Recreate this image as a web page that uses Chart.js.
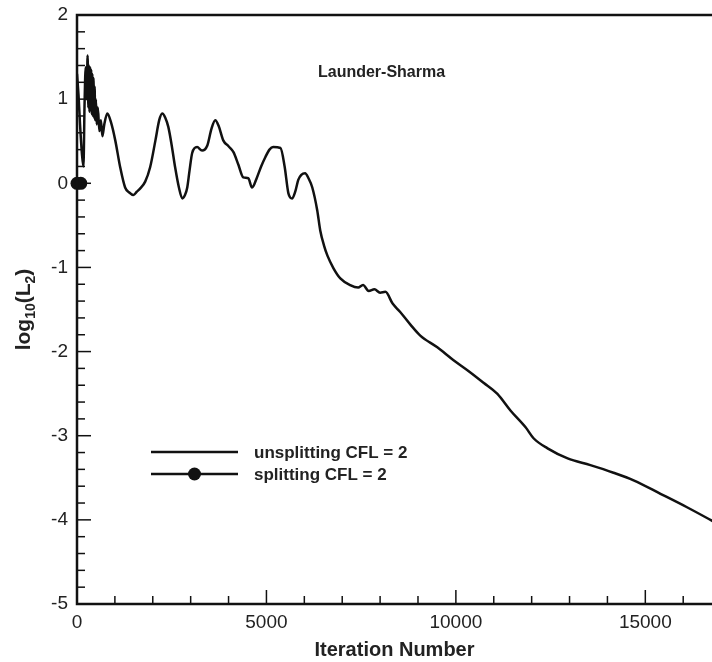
<!DOCTYPE html>
<html>
<head>
<meta charset="utf-8">
<script src="https://cdn.jsdelivr.net/npm/chart.js@4/dist/chart.umd.min.js"></script>
<style>
    html, body { margin: 0; padding: 0; background: #fff; }
    #wrap { width: 712px; height: 662px; }
</style>
</head>
<body>
<div id="wrap"><canvas id="residualChart" width="712" height="662"></canvas></div>
<script>
// residual history
const unsplitIter = [0, 40, 80, 130, 170, 200, 230, 255, 280, 300, 315, 330, 345, 360, 375, 390, 405, 420, 435, 450, 465, 480, 500, 520,
    550, 590, 630, 670, 720, 800, 900, 1010, 1140, 1270, 1380, 1490, 1580, 1670, 1800, 1930, 2070, 2170, 2250, 2330,
    2410, 2500, 2590, 2690, 2780, 2850, 2910, 2970, 3040, 3170, 3300, 3440, 3550, 3650, 3740, 3860, 4000, 4130, 4260,
    4390, 4520, 4620, 4750, 4860, 4970, 5080, 5180, 5370, 5480, 5580, 5680, 5760, 5840, 5920, 6020, 6110, 6210, 6340,
    6420, 6520, 6610, 6770, 6950, 7210, 7420, 7550, 7700, 7850, 8000, 8140, 8330, 8530, 8800, 9060, 9510, 9930, 10330,
    10730, 11090, 11440, 11840, 12050, 12420, 12950, 13550, 14160, 14690, 15400, 16100, 16800];
const unsplitL2 = [1.30, 1.05, 0.70, 0.35, 0.20, 0.95, 1.38, 1.00, 1.52, 0.90, 1.40, 0.85, 1.38, 0.92, 1.35, 0.82, 1.30, 0.80, 1.25, 0.78, 1.15, 0.75, 1.00, 0.70,
    0.90, 0.62, 0.75, 0.56, 0.70, 0.83, 0.72, 0.51, 0.19, -0.05, -0.11, -0.14, -0.10, -0.06, 0.02, 0.19, 0.51, 0.75, 0.83, 0.78,
    0.67, 0.45, 0.19, -0.05, -0.18, -0.14, -0.05, 0.15, 0.36, 0.43, 0.39, 0.45, 0.65, 0.75, 0.68, 0.51, 0.44, 0.37, 0.22,
    0.07, 0.06, -0.05, 0.07, 0.20, 0.31, 0.40, 0.43, 0.42, 0.20, -0.12, -0.18, -0.10, 0.04, 0.10, 0.12, 0.06, -0.05, -0.32,
    -0.56, -0.74, -0.86, -1.01, -1.13, -1.21, -1.24, -1.21, -1.28, -1.26, -1.30, -1.29, -1.43, -1.53, -1.68, -1.81, -1.95, -2.10, -2.23,
    -2.37, -2.50, -2.70, -2.90, -3.03, -3.15, -3.27, -3.35, -3.44, -3.53, -3.69, -3.85, -4.02];

const splitIter = [0, 100];
const splitL2 = [0, 0];

const xTickValues = [0, 5000, 10000, 15000];
const yTickValues = [-5, -4, -3, -2, -1, 0, 1, 2];
const seriesLabels = ['unsplitting CFL = 2', 'splitting CFL = 2'];
const noteText = 'Launder-Sharma';

const ink = '#111';
const textInk = '#222';

// axes frame, inward ticks, note, legend and y title
const framePlugin = {
    id: 'frame',
    afterDraw(chart) {
        const ctx = chart.ctx;
        const area = chart.chartArea;
        const xs = chart.scales.x;
        const ys = chart.scales.y;
        ctx.save();
        ctx.strokeStyle = ink;

        // ticks
        ctx.lineWidth = 1.5;
        for (let v = 0; v <= xs.max; v += 1000) {
            let px = xs.getPixelForValue(v);
            let len = v % 5000 === 0 ? 14 : 8;
            ctx.beginPath();
            ctx.moveTo(px, area.bottom);
            ctx.lineTo(px, area.bottom - len);
            ctx.stroke();
        }
        for (let i = 0; i <= 35; i++) {
            let v = -5 + i * 0.2;
            let py = ys.getPixelForValue(v);
            let len = i % 5 === 0 ? 14 : 8;
            ctx.beginPath();
            ctx.moveTo(area.left, py);
            ctx.lineTo(area.left + len, py);
            ctx.stroke();
        }

        // frame
        ctx.lineWidth = 2.5;
        ctx.beginPath();
        ctx.moveTo(area.right, area.top);
        ctx.lineTo(area.left, area.top);
        ctx.lineTo(area.left, area.bottom);
        ctx.lineTo(area.right, area.bottom);
        ctx.stroke();

        // note
        ctx.fillStyle = textInk;
        ctx.font = 'bold 16px "Liberation Sans", Arial, sans-serif';
        ctx.textAlign = 'left';
        ctx.textBaseline = 'middle';
        ctx.fillText(noteText, xs.getPixelForValue(6360), ys.getPixelForValue(1.32));

        // legend
        const lx1 = area.left + 74, lx2 = area.left + 161, ltx = area.left + 177;
        const rows = [area.top + 437, area.top + 459];
        chart.data.datasets.forEach(function (ds, i) {
            let y = rows[i];
            ctx.strokeStyle = ds.borderColor;
            ctx.lineWidth = ds.borderWidth;
            ctx.beginPath();
            ctx.moveTo(lx1, y);
            ctx.lineTo(lx2, y);
            ctx.stroke();
            if (ds.pointRadius > 0) {
                ctx.fillStyle = ds.pointBackgroundColor;
                ctx.beginPath();
                ctx.arc((lx1 + lx2) / 2, y, ds.pointRadius, 0, Math.PI * 2);
                ctx.fill();
            }
            ctx.fillStyle = textInk;
            ctx.font = 'bold 17px "Liberation Sans", Arial, sans-serif';
            ctx.fillText(ds.label, ltx, y + 1);
        });

        // y title with subscripts
        const big = 'bold 21px "Liberation Sans", Arial, sans-serif';
        const small = 'bold 14px "Liberation Sans", Arial, sans-serif';
        const parts = [['log', big, 0], ['10', small, 5], ['(L', big, 0], ['2', small, 5], [')', big, 0]];
        let total = 0;
        parts.forEach(function (p) { ctx.font = p[1]; total += ctx.measureText(p[0]).width; });
        ctx.translate(30, (area.top + area.bottom) / 2);
        ctx.rotate(-Math.PI / 2);
        ctx.textBaseline = 'alphabetic';
        ctx.fillStyle = textInk;
        let cx = -total / 2;
        parts.forEach(function (p) {
            ctx.font = p[1];
            ctx.fillText(p[0], cx, p[2]);
            cx += ctx.measureText(p[0]).width;
        });
        ctx.restore();
    }
};

const ctx = document.getElementById('residualChart').getContext('2d');

new Chart(ctx, {
    type: 'line',
    data: {
        datasets: [{
            label: seriesLabels[0],
            data: unsplitIter.map((x, i) => ({ x: x, y: unsplitL2[i] })),
            borderColor: ink,
            borderWidth: 2.5,
            pointRadius: 0,
            cubicInterpolationMode: 'monotone',
            fill: false
        },
        {
            label: seriesLabels[1],
            data: splitIter.map((x, i) => ({ x: x, y: splitL2[i] })),
            borderColor: ink,
            borderWidth: 2.5,
            pointRadius: 6.5,
            pointBackgroundColor: ink,
            pointBorderWidth: 0,
            fill: false,
            clip: false
        }]
    },
    options: {
        responsive: false,
        animation: false,
        devicePixelRatio: 1,
        layout: {
            autoPadding: false,
            padding: { top: 15, right: 0, left: 0, bottom: 0 }
        },
        plugins: {
            legend: { display: false },
            tooltip: { enabled: false }
        },
        scales: {
            x: {
                type: 'linear',
                min: 0,
                max: 16760,
                afterBuildTicks: function (scale) {
                    scale.ticks = xTickValues.map(v => ({ value: v }));
                },
                afterFit: function (scale) {
                    scale.height = 58;
                    scale.paddingLeft = 0;
                    scale.paddingRight = 0;
                },
                grid: { display: false, drawTicks: false },
                border: { display: false },
                ticks: {
                    autoSkip: false,
                    maxRotation: 0,
                    padding: 7,
                    color: textInk,
                    callback: function (value) { return String(value); },
                    font: { family: '"Liberation Sans", Arial, sans-serif', size: 19 }
                },
                title: {
                    display: true,
                    text: 'Iteration Number',
                    color: textInk,
                    padding: 0,
                    font: { family: '"Liberation Sans", Arial, sans-serif', size: 20, weight: 'bold' }
                }
            },
            y: {
                min: -5,
                max: 2,
                afterBuildTicks: function (scale) {
                    scale.ticks = yTickValues.map(v => ({ value: v }));
                },
                afterFit: function (scale) {
                    scale.width = 77;
                    scale.paddingTop = 0;
                    scale.paddingBottom = 0;
                },
                grid: { display: false, drawTicks: false },
                border: { display: false },
                ticks: {
                    padding: 9,
                    color: textInk,
                    callback: function (value) { return String(value); },
                    font: { family: '"Liberation Sans", Arial, sans-serif', size: 19 }
                }
            }
        }
    },
    plugins: [framePlugin]
});
</script>
</body>
</html>
